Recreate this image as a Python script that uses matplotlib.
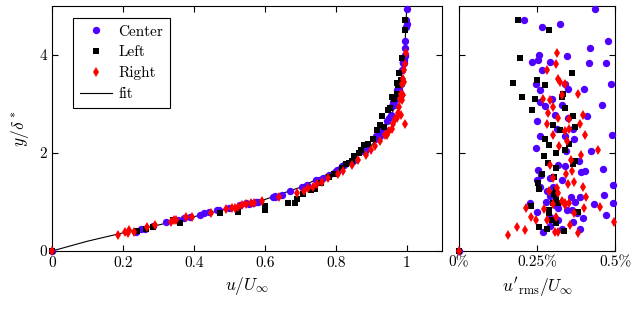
import matplotlib
matplotlib.use("Agg")
import matplotlib.pyplot as plt

plt.rcParams['font.family'] = 'serif'
plt.rcParams['font.serif'] = ['cmr10']
plt.rcParams['mathtext.fontset'] = 'cm'
plt.rcParams['axes.formatter.use_mathtext'] = True
plt.rcParams['font.size'] = 11

# Center series: y/delta*, u/U, u'rms/U (%)
center_y = [0, 4.94, 4.72, 4.57, 4.63, 4.28, 4.15, 3.84, 3.84, 3.86, 3.89, 3.99, 3.86, 3.98, 3.70,
            3.41, 3.30, 3.41, 3.30, 3.41, 3.28, 2.97, 3.05, 3.10, 2.95, 2.97, 2.78, 2.71, 2.76,
            2.65, 2.48, 2.50, 2.36, 2.35, 2.35, 2.11, 2.28, 2.05, 2.04, 1.84, 1.61, 1.63, 1.67,
            1.66, 1.56, 1.75, 1.73, 1.49, 1.45, 1.34, 1.45, 1.30, 1.15, 0.96, 0.98, 0.74, 0.98,
            0.79, 1.01, 1.11, 1.01, 1.11, 0.87, 0.84, 0.83, 0.77, 0.67, 0.70, 0.64, 0.38, 0.45,
            0.60, 1.22, 1.12, 0.51, 0.44, 0.93, 1.31]
center_u = [0, 1.000, 0.999, 0.998, 1.001, 0.996, 0.997, 0.993, 0.990, 0.991, 0.994, 0.996, 0.989,
            0.995, 0.988, 0.982, 0.980, 0.985, 0.977, 0.979, 0.974, 0.966, 0.962, 0.970, 0.960,
            0.965, 0.955, 0.951, 0.958, 0.946, 0.930, 0.936, 0.921, 0.915, 0.924, 0.892, 0.912,
            0.884, 0.878, 0.848, 0.798, 0.803, 0.812, 0.805, 0.781, 0.825, 0.818, 0.765, 0.752,
            0.718, 0.745, 0.705, 0.648, 0.555, 0.566, 0.418, 0.548, 0.442, 0.575, 0.628, 0.580,
            0.622, 0.500, 0.472, 0.465, 0.430, 0.372, 0.390, 0.355, 0.238, 0.262, 0.322, 0.672,
            0.630, 0.285, 0.252, 0.530, 0.712]
center_rms = [0, 0.436, 0.208, 0.267, 0.325, 0.478, 0.419, 0.471, 0.418, 0.233, 0.252, 0.258, 0.292,
              0.345, 0.267, 0.486, 0.402, 0.341, 0.349, 0.246, 0.260, 0.458, 0.261, 0.297, 0.275,
              0.329, 0.308, 0.349, 0.409, 0.251, 0.313, 0.364, 0.490, 0.260, 0.339, 0.248, 0.368,
              0.422, 0.344, 0.384, 0.392, 0.405, 0.463, 0.254, 0.262, 0.318, 0.340, 0.292, 0.329,
              0.492, 0.250, 0.302, 0.464, 0.432, 0.493, 0.471, 0.228, 0.249, 0.279, 0.358, 0.372,
              0.388, 0.318, 0.345, 0.361, 0.377, 0.398, 0.292, 0.318, 0.270, 0.388, 0.366, 0.281,
              0.292, 0.292, 0.329, 0.308, 0.260]

# Left series
left_y = [0, 4.72, 4.52, 3.93, 3.64, 3.42, 3.49, 3.38, 3.14, 3.10, 3.21, 3.15, 2.87, 2.91, 2.76,
          2.58, 2.53, 2.46, 2.29, 2.16, 2.19, 2.07, 2.00, 1.93, 1.80, 1.77, 1.83, 1.70, 1.57,
          1.52, 1.39, 1.27, 1.16, 1.06, 0.91, 0.80, 0.77, 0.64, 0.50, 0.45, 0.41, 1.24,
          0.98, 0.98, 0.84, 0.57]
left_u = [0, 0.996, 0.997, 0.988, 0.978, 0.972, 0.984, 0.975, 0.958, 0.966, 0.972, 0.962, 0.948,
          0.952, 0.932, 0.925, 0.935, 0.918, 0.905, 0.880, 0.892, 0.872, 0.866, 0.852, 0.838,
          0.830, 0.846, 0.818, 0.795, 0.780, 0.760, 0.742, 0.708, 0.690, 0.600, 0.525, 0.475,
          0.340, 0.285, 0.265, 0.240, 0.730, 0.665, 0.685, 0.600, 0.360]
left_rms = [0, 0.188, 0.287, 0.194, 0.362, 0.172, 0.250, 0.275, 0.203, 0.245, 0.334, 0.330, 0.233,
            0.341, 0.365, 0.300, 0.372, 0.324, 0.276, 0.289, 0.354, 0.341, 0.311, 0.273, 0.285,
            0.364, 0.373, 0.310, 0.265, 0.306, 0.254, 0.258, 0.304, 0.310, 0.231, 0.380, 0.287,
            0.299, 0.255, 0.282, 0.337, 0.310, 0.318, 0.300, 0.290, 0.310]

# Right series
right_y = [0, 4.05, 3.82, 3.70, 3.52, 3.45, 3.21, 3.10, 3.08, 2.94, 2.81, 2.77, 2.70, 2.60, 2.60,
           2.50, 2.36, 2.37, 2.24, 2.14, 2.06, 1.96, 1.75, 1.64, 1.58, 1.41, 1.30, 1.23, 1.19,
           1.10, 1.02, 0.98, 0.88, 0.86, 0.87, 0.89, 0.70, 0.64, 0.70, 0.60, 0.63, 0.49, 0.43,
           0.33, 0.38, 0.38, 0.53, 0.36, 0.95, 0.93, 0.77, 0.97, 1.28, 1.36, 1.48, 1.85, 2.45,
           2.72, 3.40, 3.18]
right_u = [0, 0.998, 0.997, 0.994, 0.990, 0.992, 0.985, 0.982, 0.988, 0.978, 0.975, 0.985, 0.968,
           0.995, 0.962, 0.958, 0.945, 0.940, 0.925, 0.912, 0.900, 0.885, 0.845, 0.820, 0.808,
           0.762, 0.735, 0.712, 0.690, 0.640, 0.592, 0.560, 0.508, 0.490, 0.515, 0.525, 0.378,
           0.350, 0.395, 0.335, 0.345, 0.268, 0.218, 0.186, 0.205, 0.232, 0.290, 0.215, 0.548,
           0.535, 0.448, 0.570, 0.722, 0.748, 0.778, 0.862, 0.950, 0.972, 0.987, 0.990]
right_rms = [0, 0.315, 0.311, 0.282, 0.316, 0.325, 0.380, 0.270, 0.293, 0.301, 0.285, 0.397, 0.354,
             0.387, 0.282, 0.352, 0.405, 0.300, 0.345, 0.322, 0.445, 0.390, 0.292, 0.361, 0.343,
             0.369, 0.399, 0.288, 0.318, 0.408, 0.331, 0.351, 0.214, 0.272, 0.402, 0.453, 0.231,
             0.246, 0.310, 0.497, 0.282, 0.186, 0.213, 0.158, 0.308, 0.318, 0.356, 0.380, 0.302,
             0.340, 0.370, 0.340, 0.315, 0.350, 0.300, 0.360, 0.340, 0.318, 0.340, 0.330]

# fit curve
fit_u = [0, 0.1, 0.2, 0.3, 0.4, 0.5, 0.6, 0.7, 0.8, 0.85, 0.9, 0.93, 0.95, 0.97, 0.985, 0.995, 1.0]
fit_y = [0, 0.2, 0.37, 0.53, 0.7, 0.87, 1.05, 1.3, 1.65, 1.88, 2.15, 2.4, 2.65, 3.0, 3.5, 4.1, 4.9]

blue = '#5000ff'
red = '#ff0000'

fig = plt.figure(figsize=(6.38, 3.09), dpi=100)
ax1 = fig.add_axes([52/638, 58/309, 390/638, 245/309])
ax2 = fig.add_axes([459/638, 58/309, 156/638, 245/309])

ax1.plot(center_u, center_y, 'o', color=blue, ms=5.3, mew=0, label='Center', clip_on=False, zorder=3)
ax1.plot(left_u, left_y, 's', color='black', ms=5.0, mew=0, label='Left', clip_on=False, zorder=4)
ax1.plot(right_u, right_y, 'd', color=red, ms=5.2, mew=0, label='Right', clip_on=False, zorder=5)
ax1.plot(fit_u, fit_y, '-', color='black', lw=0.8, label='fit', zorder=2)

ax2.plot(center_rms, center_y, 'o', color=blue, ms=5.3, mew=0, clip_on=False, zorder=3)
ax2.plot(left_rms, left_y, 's', color='black', ms=5.0, mew=0, clip_on=False, zorder=4)
ax2.plot(right_rms, right_y, 'd', color=red, ms=5.2, mew=0, clip_on=False, zorder=5)

ax1.set_xlim(0, 1.1)
ax1.set_ylim(0, 5)
ax1.set_xticks([0, 0.2, 0.4, 0.6, 0.8, 1])
ax1.set_xticklabels(['0', '0.2', '0.4', '0.6', '0.8', '1'])
ax1.set_yticks([0, 2, 4])
ax1.set_yticklabels(['0', '2', '4'])
ax1.set_xlabel(r'$u/U_\infty$', fontsize=12.5)
ax1.set_ylabel(r'$y/\delta^*$', fontsize=12.5, labelpad=6)

ax2.set_xlim(0, 0.5)
ax2.set_ylim(0, 5)
ax2.set_xticks([0, 0.25, 0.5])
ax2.set_xticklabels(['0%', '0.25%', '0.5%'])
ax2.set_yticks([0, 2, 4])
ax2.set_yticklabels([])
ax2.set_xlabel(r"$u'_{\rm rms}/U_\infty$", fontsize=12.5)

for ax in (ax1, ax2):
    ax.tick_params(direction='in', top=True, right=True, length=4, width=0.8, labelsize=11)
    for s in ax.spines.values():
        s.set_linewidth(0.8)

leg = ax1.legend(loc='upper left', bbox_to_anchor=(0.054, 0.95), borderaxespad=0, fancybox=False,
                 edgecolor='black', framealpha=1, numpoints=1, handlelength=2.1,
                 handletextpad=0.4, borderpad=0.45, labelspacing=0.45, fontsize=11)
leg.get_frame().set_linewidth(0.8)

fig.savefig('out.png', dpi=100)
